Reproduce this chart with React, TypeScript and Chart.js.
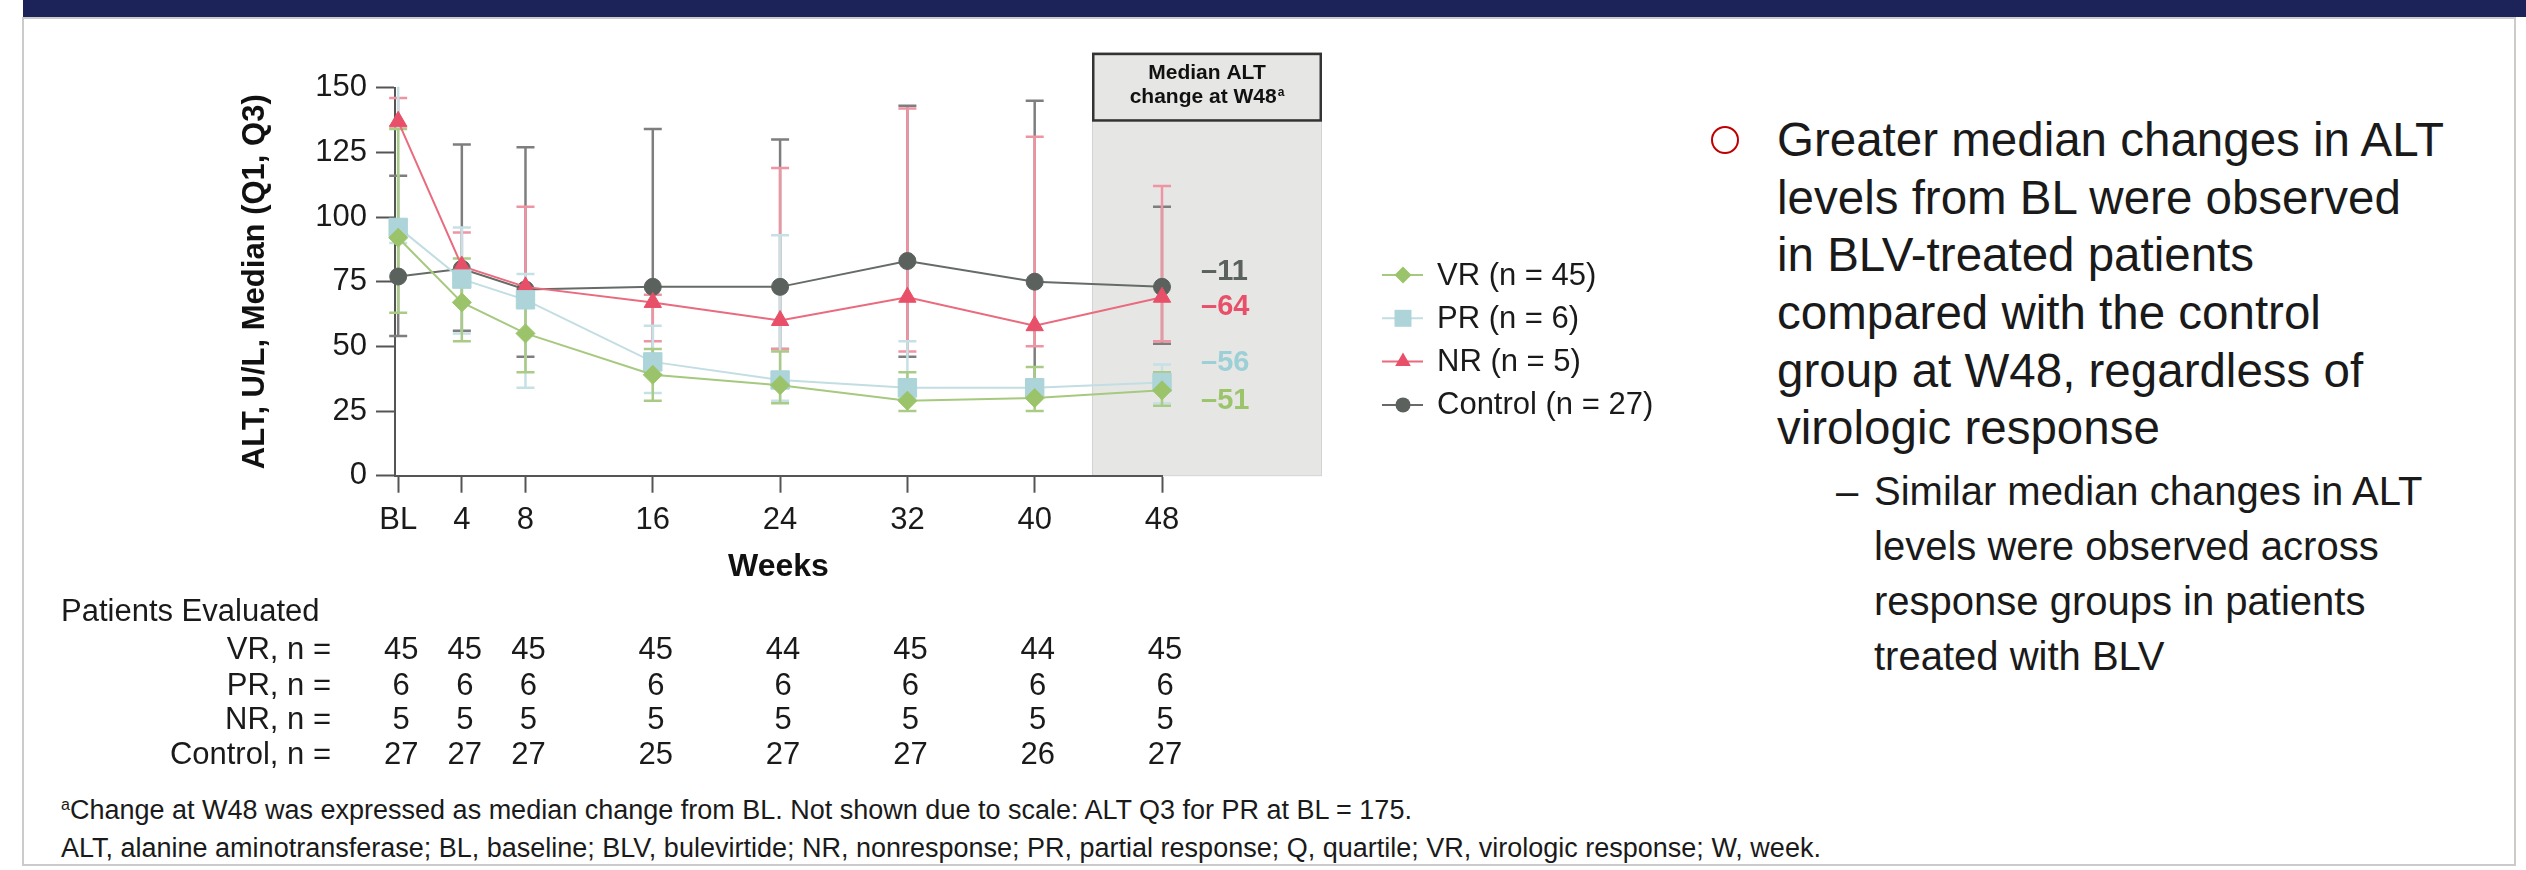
import React, { useEffect, useRef } from "react";
import { Chart, registerables } from "chart.js";

Chart.register(...registerables);

const FONT = '"Liberation Sans", Arial, Helvetica, sans-serif';

// ---------- data ----------
const weeks = [0, 4, 8, 16, 24, 32, 40, 48];
const seriesNames = ["VR (n = 45)", "PR (n = 6)", "NR (n = 5)", "Control (n = 27)"];

const vrMedian = [92, 67, 55, 39, 35, 29, 30, 33];
const vrQ1 = [63, 52, 40, 29, 28, 25, 25, 27];
const vrQ3 = [134, 84, 66, 49, 48, 40, 42, 40];

const prMedian = [96, 76, 68, 44, 37, 34, 34, 36];
const prQ1 = [90, 55, 34, 32, 29, 30, 32, 28];
const prQ3 = [175, 96, 78, 58, 93, 52, 36, 43];

const nrMedian = [137, 81, 73, 67, 60, 69, 58, 69];
const nrQ1 = [135, 76, 70, 52, 49, 48, 50, 52];
const nrQ3 = [146, 94, 104, 70, 119, 142, 131, 112];

const ctrlMedian = [77, 80, 72, 73, 73, 83, 75, 73];
const ctrlQ1 = [54, 56, 46, 44, 49, 46, 33, 51];
const ctrlQ3 = [116, 128, 127, 134, 130, 143, 145, 104];

const changeAtW48 = ["–51", "–56", "–64", "–11"];

const tableTitle = "Patients Evaluated";
const tableRowLabels = ["VR, n =", "PR, n =", "NR, n =", "Control, n ="];
const nVR = [45, 45, 45, 45, 44, 45, 44, 45];
const nPR = [6, 6, 6, 6, 6, 6, 6, 6];
const nNR = [5, 5, 5, 5, 5, 5, 5, 5];
const nControl = [27, 27, 27, 25, 27, 27, 26, 27];

const yMin = 0;
const yMax = 150;
const yStep = 25;

const medians = [vrMedian, prMedian, nrMedian, ctrlMedian];
const q1s = [vrQ1, prQ1, nrQ1, ctrlQ1];
const q3s = [vrQ3, prQ3, nrQ3, ctrlQ3];
const tableRows = [nVR, nPR, nNR, nControl];

// ---------- styles ----------
const styles = [
  { point: "#9bc46a", line: "#a6c97f", err: "#aacb86", shape: "rectRot", r: 9.5, label: "#9cc46b", lr: 8.5 },
  { point: "#acd4d9", line: "#c2dee2", err: "#c6e1e5", shape: "rect", r: 13, label: "#9dcfd6", lr: 12 },
  { point: "#e84f68", line: "#ea6a7e", err: "#ef94a2", shape: "triangle", r: 10, label: "#e8506a", lr: 9 },
  { point: "#5b615c", line: "#666b67", err: "#7e7e7e", shape: "circle", r: 8.5, label: "#5b615c", lr: 7.5 },
];
const labelOffsets = [11, -20, 10, -15];

const CANVAS_W = 1720;
const CANVAS_H = 790;
const AREA = { left: 395, right: 1162, top: 87.7, bottom: 475.7 };
const X_AXIS_BOTTOM = 586.2;
const Y_SCALE_LEFT = 236.4;

function drawMarker(ctx: CanvasRenderingContext2D, shape: string, x: number, y: number, r: number) {
  ctx.beginPath();
  if (shape === "circle") {
    ctx.arc(x, y, r, 0, Math.PI * 2);
  } else if (shape === "rect") {
    const s = r * Math.SQRT1_2;
    ctx.rect(x - s, y - s, 2 * s, 2 * s);
  } else if (shape === "rectRot") {
    ctx.moveTo(x - r, y);
    ctx.lineTo(x, y - r);
    ctx.lineTo(x + r, y);
    ctx.lineTo(x, y + r);
    ctx.closePath();
  } else {
    ctx.moveTo(x, y - r);
    ctx.lineTo(x + r * 0.866, y + r * 0.5);
    ctx.lineTo(x - r * 0.866, y + r * 0.5);
    ctx.closePath();
  }
  ctx.fill();
}

const decorPlugin = {
  id: "decor",
  beforeDraw(chart: any) {
    const { ctx, chartArea, scales } = chart;
    const x48 = scales.x.getPixelForValue(48);
    const left = x48 - 70;
    const right = x48 + 160;
    const top = chartArea.top - 35;
    const bottom = chartArea.bottom;
    ctx.save();
    ctx.fillStyle = "#e6e7e5";
    ctx.fillRect(left, top, right - left, bottom - top);
    ctx.strokeStyle = "#d3d4d2";
    ctx.lineWidth = 1;
    ctx.strokeRect(left + 0.5, top, right - left - 1, bottom - top);
    ctx.strokeStyle = "#333";
    ctx.lineWidth = 2.5;
    ctx.strokeRect(left + 1.25, top + 1.25, right - left - 2.5, 66.5);
    const cx = (left + right) / 2;
    ctx.fillStyle = "#111";
    ctx.textBaseline = "middle";
    ctx.textAlign = "center";
    ctx.font = `bold 21px ${FONT}`;
    ctx.fillText("Median ALT", cx, top + 21);
    const main = "change at W48";
    const w = ctx.measureText(main).width;
    ctx.font = `bold 12px ${FONT}`;
    const wa = ctx.measureText("a").width;
    const sx = cx - (w + wa + 1) / 2;
    ctx.textAlign = "left";
    ctx.font = `bold 21px ${FONT}`;
    ctx.fillText(main, sx, top + 45);
    ctx.font = `bold 12px ${FONT}`;
    ctx.fillText("a", sx + w + 1, top + 40);
    ctx.restore();
  },
  beforeDatasetsDraw(chart: any) {
    const { ctx, chartArea, scales } = chart;
    ctx.save();
    ctx.beginPath();
    ctx.rect(chartArea.left - 30, chartArea.top - 1, chartArea.right - chartArea.left + 60, chartArea.bottom - chartArea.top + 1);
    ctx.clip();
    for (let i = q1s.length - 1; i >= 0; i--) {
      ctx.strokeStyle = styles[i].err;
      ctx.lineWidth = 2.5;
      weeks.forEach((wk, j) => {
        const x = scales.x.getPixelForValue(wk);
        const y1 = scales.y.getPixelForValue(q1s[i][j]);
        const y3 = scales.y.getPixelForValue(q3s[i][j]);
        ctx.beginPath();
        ctx.moveTo(x, y1);
        ctx.lineTo(x, y3);
        ctx.moveTo(x - 9, y1);
        ctx.lineTo(x + 9, y1);
        ctx.moveTo(x - 9, y3);
        ctx.lineTo(x + 9, y3);
        ctx.stroke();
      });
    }
    ctx.restore();
  },
  afterDraw(chart: any) {
    const { ctx, scales } = chart;
    ctx.save();
    // change labels at W48
    const x48 = scales.x.getPixelForValue(48);
    ctx.font = `bold 29px ${FONT}`;
    ctx.textAlign = "left";
    ctx.textBaseline = "middle";
    medians.forEach((m, i) => {
      const y = scales.y.getPixelForValue(m[m.length - 1]) + labelOffsets[i];
      ctx.fillStyle = styles[i].label;
      ctx.fillText(changeAtW48[i], x48 + 39, y);
    });
    // legend
    ctx.font = `31px ${FONT}`;
    seriesNames.forEach((name, i) => {
      const y = 275 + i * 43.3;
      ctx.strokeStyle = styles[i].line;
      ctx.lineWidth = 2;
      ctx.beginPath();
      ctx.moveTo(1382, y);
      ctx.lineTo(1423, y);
      ctx.stroke();
      ctx.fillStyle = styles[i].point;
      drawMarker(ctx, styles[i].shape, 1403, y, styles[i].lr);
      ctx.fillStyle = "#1a1a1a";
      ctx.fillText(name, 1437, y + 1);
    });
    // patients table
    ctx.fillStyle = "#1a1a1a";
    ctx.font = `31px ${FONT}`;
    ctx.textAlign = "left";
    ctx.fillText(tableTitle, 61, 612);
    const rowY = [650, 686, 720, 755];
    tableRows.forEach((row, i) => {
      ctx.textAlign = "right";
      ctx.fillText(tableRowLabels[i], 331, rowY[i]);
      ctx.textAlign = "center";
      row.forEach((n, j) => {
        ctx.fillText(String(n), scales.x.getPixelForValue(weeks[j]) + 3, rowY[i]);
      });
    });
    ctx.restore();
  },
};

export default function App() {
  const ref = useRef<HTMLCanvasElement>(null);

  useEffect(() => {
    if (!ref.current) return;
    Chart.defaults.font.family = FONT;
    const chart = new Chart(ref.current, {
      type: "line",
      data: {
        datasets: seriesNames.map((name, i) => ({
          label: name,
          data: weeks.map((w, j) => ({ x: w, y: medians[i][j] })),
          borderColor: styles[i].line,
          borderWidth: 2,
          backgroundColor: styles[i].point,
          pointBackgroundColor: styles[i].point,
          pointBorderColor: styles[i].point,
          pointBorderWidth: 1,
          pointStyle: styles[i].shape as any,
          pointRadius: styles[i].r,
          tension: 0,
          clip: false as any,
        })),
      },
      options: {
        responsive: false,
        animation: false,
        devicePixelRatio: 1,
        events: [],
        layout: {
          padding: {
            left: Y_SCALE_LEFT,
            top: AREA.top,
            right: CANVAS_W - AREA.right,
            bottom: CANVAS_H - X_AXIS_BOTTOM,
          },
        },
        plugins: { legend: { display: false }, tooltip: { enabled: false } },
        scales: {
          x: {
            type: "linear",
            min: -0.2,
            max: 48,
            afterBuildTicks: (s: any) => {
              s.ticks = weeks.map((v) => ({ value: v }));
            },
            afterFit: (s: any) => {
              s.height = X_AXIS_BOTTOM - AREA.bottom;
            },
            ticks: {
              autoSkip: false,
              maxRotation: 0,
              padding: 9,
              color: "#1a1a1a",
              font: { size: 31 },
              callback: (v: any) => (v === 0 ? "BL" : String(v)),
            },
            grid: { display: true, drawOnChartArea: false, drawTicks: true, tickLength: 17, tickWidth: 2, tickColor: "#555" },
            border: { display: true, color: "#555", width: 2 },
            title: { display: true, text: "Weeks", color: "#111", padding: 0, font: { size: 32, weight: "bold" } },
          },
          y: {
            min: yMin,
            max: yMax,
            afterFit: (s: any) => {
              s.width = AREA.left - Y_SCALE_LEFT;
            },
            ticks: { stepSize: yStep, padding: 9, color: "#1a1a1a", font: { size: 31 } },
            grid: { display: true, drawOnChartArea: false, drawTicks: true, tickLength: 19, tickWidth: 2, tickColor: "#555" },
            border: { display: true, color: "#555", width: 2 },
            title: { display: true, text: "ALT, U/L, Median (Q1, Q3)", color: "#111", padding: 0, font: { size: 31, weight: "bold" } },
          },
        },
      },
      plugins: [decorPlugin],
    } as any);
    return () => chart.destroy();
  }, []);

  return (
    <div
      style={{
        position: "absolute",
        left: 0,
        top: 0,
        width: 2526,
        height: 870,
        background: "#fff",
        overflow: "hidden",
        fontFamily: FONT,
        color: "#1a1a1a",
      }}
    >
      <div style={{ position: "absolute", left: 23, top: 0, width: 2503, height: 17, background: "#1b2359" }} />
      <div style={{ position: "absolute", left: 23, top: 17, width: 2493, height: 2, background: "#cbcbcb" }} />
      <div style={{ position: "absolute", left: 22, top: 17, width: 2, height: 849, background: "#cbcbcb" }} />
      <div style={{ position: "absolute", left: 2514, top: 17, width: 2, height: 849, background: "#cbcbcb" }} />
      <div style={{ position: "absolute", left: 22, top: 864, width: 2494, height: 2, background: "#cbcbcb" }} />

      <canvas
        ref={ref}
        width={CANVAS_W}
        height={CANVAS_H}
        style={{ position: "absolute", left: 0, top: 0, width: CANVAS_W, height: CANVAS_H }}
      />

      <div
        style={{
          position: "absolute",
          left: 1711,
          top: 126,
          width: 28,
          height: 28,
          borderRadius: "50%",
          border: "2.5px solid #c00000",
          boxSizing: "border-box",
        }}
      />
      <div
        style={{
          position: "absolute",
          left: 1777,
          top: 111.2,
          fontSize: 47.5,
          lineHeight: "57.6px",
          whiteSpace: "nowrap",
        }}
      >
        Greater median changes in ALT
        <br />
        levels from BL were observed
        <br />
        in BLV-treated patients
        <br />
        compared with the control
        <br />
        group at W48, regardless of
        <br />
        virologic response
      </div>
      <div style={{ position: "absolute", left: 1836, top: 463.5, fontSize: 40, lineHeight: "55px" }}>–</div>
      <div
        style={{
          position: "absolute",
          left: 1874,
          top: 463.5,
          fontSize: 40,
          lineHeight: "55px",
          whiteSpace: "nowrap",
        }}
      >
        Similar median changes in ALT
        <br />
        levels were observed across
        <br />
        response groups in patients
        <br />
        treated with BLV
      </div>

      <div
        style={{
          position: "absolute",
          left: 61,
          top: 793,
          fontSize: 27,
          lineHeight: "34px",
          whiteSpace: "nowrap",
        }}
      >
        <span style={{ fontSize: 16, position: "relative", top: -9 }}>a</span>
        Change at W48 was expressed as median change from BL. Not shown due to scale: ALT Q3 for PR at BL = 175.
        <br />
        ALT, alanine aminotransferase; BL, baseline; BLV, bulevirtide; NR, nonresponse; PR, partial response; Q,
        quartile; VR, virologic response; W, week.
      </div>
    </div>
  );
}
